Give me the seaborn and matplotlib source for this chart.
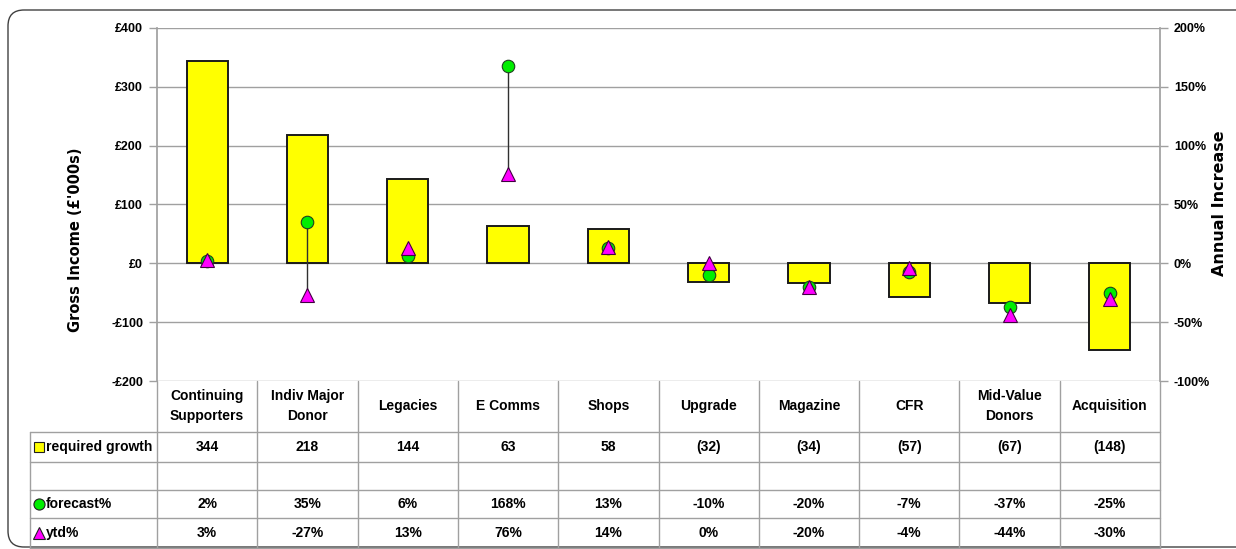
import matplotlib
matplotlib.use("Agg")
import matplotlib.pyplot as plt
import seaborn as sns
import pandas as pd
from matplotlib.patches import FancyBboxPatch
from matplotlib.lines import Line2D

categories = ["Continuing\nSupporters", "Indiv Major\nDonor", "Legacies", "E Comms", "Shops",
              "Upgrade", "Magazine", "CFR", "Mid-Value\nDonors", "Acquisition"]
required_growth = [344, 218, 144, 63, 58, -32, -34, -57, -67, -148]
forecast_pct = [2, 35, 6, 168, 13, -10, -20, -7, -37, -25]
ytd_pct = [3, -27, 13, 76, 14, 0, -20, -4, -44, -30]
left_ticks = [-200, -100, 0, 100, 200, 300, 400]
right_ticks = [-100, -50, 0, 50, 100, 150, 200]
row_names = ["required growth", "", "forecast%", "ytd%"]

W, H = 1236, 549
sns.set_theme(style="white")
NARROW = ['Liberation Sans', 'DejaVu Sans']
plt.rcParams['font.family'] = NARROW
plt.rcParams['text.color'] = 'black'

YELLOW = "#FFFF00"
GREEN = "#00EE00"
MAGENTA = "#FF00FF"
GRID = "#a0a0a0"

fig = plt.figure(figsize=(W / 100, H / 100), dpi=100)
fig.patch.set_facecolor("white")


def fx(px):
    return px / W


def fy(py):
    return 1 - py / H


L, R, T, B = 157, 1160, 28, 381
ax = fig.add_axes([fx(L), fy(B), fx(R) - fx(L), fy(T) - fy(B)])
df = pd.DataFrame({"cat": categories, "val": required_growth})
sns.barplot(data=df, x="cat", y="val", color=YELLOW, saturation=1, edgecolor="#1a1a1a",
            linewidth=1.4, width=0.41, ax=ax, zorder=2)
ax.set_xlim(-0.5, len(categories) - 0.5)
ax.set_ylim(-200, 400)
ax.set_yticks(left_ticks)
ax.set_yticklabels([("-£%d" % -v) if v < 0 else ("£%d" % v) for v in left_ticks],
                   fontsize=9, fontweight="bold", family=NARROW, color="black")
ax.set_xticks([])
ax.set_xlabel("")
ax.set_ylabel("")
ax.yaxis.grid(True, color=GRID, lw=1)
ax.set_axisbelow(True)
for s in ["top", "bottom", "right"]:
    ax.spines[s].set_visible(False)
ax.spines["left"].set_color(GRID)
ax.tick_params(axis="y", which="both", left=True, length=6, width=1, color=GRID, pad=4)

ax2 = ax.twinx()
ax2.set_ylim(-100, 200)
ax2.set_yticks(right_ticks)
ax2.set_yticklabels(["%d%%" % v for v in right_ticks], fontsize=9, fontweight="bold",
                    family=NARROW, color="black")
for s in ["top", "bottom", "left"]:
    ax2.spines[s].set_visible(False)
ax2.spines["right"].set_color(GRID)
ax2.tick_params(axis="y", right=True, length=6, width=1, color=GRID, pad=4)
ax2.grid(False)

xs = list(range(len(categories)))
for i in xs:
    lo, hi = min(forecast_pct[i], ytd_pct[i]), max(forecast_pct[i], ytd_pct[i])
    ax2.vlines(i, lo, hi, color="#303030", lw=1, zorder=2)
ax2.plot(xs, forecast_pct, ls="none", marker="o", ms=9, mfc=GREEN, mec="#204020", mew=0.8, zorder=3)
ax2.plot(xs, ytd_pct, ls="none", marker="^", ms=9.5, mfc=MAGENTA, mec="#400040", mew=0.8, zorder=4)


# ---- data table below the plot ----
def hline(y, x0, x1):
    fig.add_artist(Line2D([fx(x0), fx(x1)], [fy(y), fy(y)], color=GRID, lw=1))


def vline(x, y0, y1):
    fig.add_artist(Line2D([fx(x), fx(x)], [fy(y0), fy(y1)], color=GRID, lw=1))


TL = 30
row_lines = [432, 462, 490, 518, 548]
for y in row_lines:
    hline(y, TL, R)
n = len(categories)
colw = (R - L) / n
for i in range(n + 1):
    vline(L + i * colw, B, H)
vline(TL, 432, H)

tfont = dict(fontsize=10, fontweight="bold", family=NARROW, color="black")
for i, c in enumerate(categories):
    cx = L + (i + 0.5) * colw
    fig.text(fx(cx), fy(406), c, ha="center", va="center", linespacing=1.5, **tfont)
    g = required_growth[i]
    fig.text(fx(cx), fy(447), str(g) if g >= 0 else "(%d)" % -g, ha="center", va="center", **tfont)
    fig.text(fx(cx), fy(504), "%d%%" % forecast_pct[i], ha="center", va="center", **tfont)
    fig.text(fx(cx), fy(533), "%d%%" % ytd_pct[i], ha="center", va="center", **tfont)

row_y = [447, 476, 504, 533]
icons = [("s", YELLOW, 7.5), None, ("o", GREEN, 8), ("^", MAGENTA, 8.5)]
for name, y, ic in zip(row_names, row_y, icons):
    if ic:
        m, col, ms = ic
        fig.add_artist(Line2D([fx(39)], [fy(y)], marker=m, ms=ms, mfc=col, mec="#202020", mew=0.8, ls="none"))
    if name:
        fig.text(fx(46), fy(y), name, ha="left", va="center", **tfont)

fig.text(fx(75), fy(240), "Gross Income (£'000s)", rotation=90, ha="center", va="center",
         family="DejaVu Sans", fontweight="bold", fontsize=10.5, color="black")
fig.text(fx(1219), fy(203), "Annual Increase", rotation=90, ha="center", va="center",
         family="DejaVu Sans", fontweight="bold", fontsize=11.5, color="black")

frame = FancyBboxPatch((0.08, 0.02), 12.6, 5.37, boxstyle="round,pad=0,rounding_size=0.16",
                       transform=fig.dpi_scale_trans, fill=False, ec="#404040", lw=1)
fig.add_artist(frame)

fig.savefig("out.png", dpi=100)
